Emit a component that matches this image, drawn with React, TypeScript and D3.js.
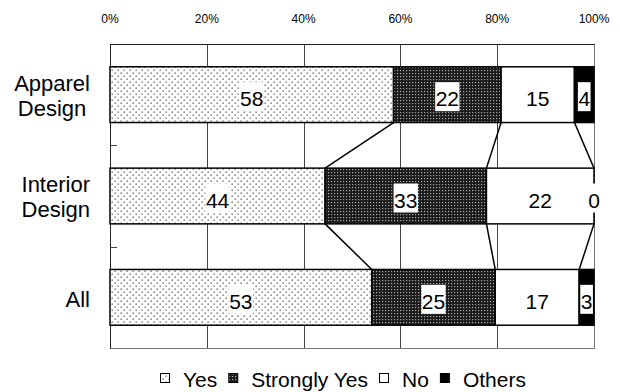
import { useEffect, useRef } from "react";
import * as d3 from "d3";

const categories = ["Apparel Design", "Interior Design", "All"];
const seriesNames = ["Yes", "Strongly Yes", "No", "Others"];
const yesValues = [58, 44, 53];
const strongYesValues = [22, 33, 25];
const noValues = [15, 22, 17];
const othersValues = [4, 0, 3];
const tickValues = [0, 0.2, 0.4, 0.6, 0.8, 1];
const tickLabels = ["0%", "20%", "40%", "60%", "80%", "100%"];

const WIDTH = 620;
const HEIGHT = 392;
const FONT = "'Liberation Sans', Arial, sans-serif";

export default function App() {
  const svgRef = useRef<SVGSVGElement>(null);

  useEffect(() => {
    if (!svgRef.current) return;
    document.body.style.margin = "0";

    const margin = { top: 44, right: 26, bottom: 44, left: 110 };
    const plotRight = WIDTH - margin.right;
    const plotBottom = HEIGHT - margin.bottom;

    const svg = d3.select(svgRef.current);
    svg.selectAll("*").remove();

    const series = [yesValues, strongYesValues, noValues, othersValues];

    // patterns
    const defs = svg.append("defs");
    const dots = defs
      .append("pattern")
      .attr("id", "pat-yes")
      .attr("patternUnits", "userSpaceOnUse")
      .attr("width", 6)
      .attr("height", 6);
    dots.append("rect").attr("width", 6).attr("height", 6).attr("fill", "#fff");
    dots.append("rect").attr("x", 0.5).attr("y", 0.5).attr("width", 1.3).attr("height", 1.3).attr("fill", "#555");
    dots.append("rect").attr("x", 3.5).attr("y", 3.5).attr("width", 1.3).attr("height", 1.3).attr("fill", "#555");

    const grid = defs
      .append("pattern")
      .attr("id", "pat-strong")
      .attr("patternUnits", "userSpaceOnUse")
      .attr("width", 3)
      .attr("height", 3);
    grid.append("rect").attr("width", 3).attr("height", 3).attr("fill", "#1a1a1a");
    grid.append("rect").attr("x", 1).attr("y", 1).attr("width", 1.2).attr("height", 1.2).attr("fill", "#a8a8a8");

    const fills = ["url(#pat-yes)", "url(#pat-strong)", "#fff", "#000"];

    const xScale = d3.scaleLinear().domain([0, 1]).range([margin.left, plotRight]);
    const yScale = d3
      .scaleBand()
      .domain(categories)
      .range([margin.top, plotBottom])
      .paddingInner(0.45)
      .paddingOuter(0.225);
    const bw = yScale.bandwidth();
    const step = yScale.step();

    // stacked proportions
    const stacks = categories.map((c, i) => {
      const vals = series.map((s) => s[i]);
      const total = d3.sum(vals);
      let acc = 0;
      return vals.map((v, k) => {
        const x0 = acc / total;
        acc += v;
        return { cat: c, key: seriesNames[k], value: v, k, x0, x1: acc / total };
      });
    });

    // gridlines
    svg
      .append("g")
      .selectAll("line")
      .data(tickValues.slice(1, -1))
      .enter()
      .append("line")
      .attr("x1", (d) => Math.round(xScale(d)) + 0.5)
      .attr("x2", (d) => Math.round(xScale(d)) + 0.5)
      .attr("y1", margin.top)
      .attr("y2", plotBottom)
      .attr("stroke", "#444")
      .attr("stroke-width", 1);

    // frame
    svg.append("line")
      .attr("x1", plotRight + 0.5).attr("x2", plotRight + 0.5)
      .attr("y1", margin.top).attr("y2", plotBottom)
      .attr("stroke", "#777");
    svg.append("line")
      .attr("x1", margin.left).attr("x2", plotRight + 1)
      .attr("y1", plotBottom + 0.5).attr("y2", plotBottom + 0.5)
      .attr("stroke", "#777");
    svg.append("line")
      .attr("x1", margin.left).attr("x2", plotRight + 1)
      .attr("y1", margin.top + 0.5).attr("y2", margin.top + 0.5)
      .attr("stroke", "#222");
    svg.append("line")
      .attr("x1", margin.left + 0.5).attr("x2", margin.left + 0.5)
      .attr("y1", margin.top).attr("y2", plotBottom + 1)
      .attr("stroke", "#222");

    // left ticks at band boundaries
    const boundaries = categories.slice(0, -1).map((c) => (yScale(c) as number) + bw + (step - bw) / 2);
    svg
      .append("g")
      .selectAll("line")
      .data(boundaries)
      .enter()
      .append("line")
      .attr("x1", margin.left)
      .attr("x2", margin.left + 7)
      .attr("y1", (d) => Math.round(d) + 0.5)
      .attr("y2", (d) => Math.round(d) + 0.5)
      .attr("stroke", "#444");

    // top tick labels
    svg
      .append("g")
      .selectAll("text")
      .data(tickValues)
      .enter()
      .append("text")
      .attr("x", (d) => xScale(d))
      .attr("y", 23)
      .attr("text-anchor", "middle")
      .attr("font-family", FONT)
      .attr("font-size", 12)
      .attr("fill", "#000")
      .text((_d, i) => tickLabels[i]);

    // bars
    const barG = svg.append("g");
    stacks.forEach((segs) => {
      const y = yScale(segs[0].cat) as number;
      barG
        .selectAll(null)
        .data(segs.filter((s) => s.value > 0))
        .enter()
        .append("rect")
        .attr("x", (d) => xScale(d.x0))
        .attr("y", y)
        .attr("width", (d) => xScale(d.x1) - xScale(d.x0))
        .attr("height", bw)
        .attr("fill", (d) => fills[d.k])
        .attr("stroke", "#000")
        .attr("stroke-width", 1.5);
    });

    // connector lines between bars
    const connG = svg.append("g");
    for (let i = 0; i < stacks.length - 1; i++) {
      const yTop = (yScale(categories[i]) as number) + bw;
      const yBot = yScale(categories[i + 1]) as number;
      for (let k = 0; k < seriesNames.length - 1; k++) {
        connG
          .append("line")
          .attr("x1", xScale(stacks[i][k].x1))
          .attr("y1", yTop)
          .attr("x2", xScale(stacks[i + 1][k].x1))
          .attr("y2", yBot)
          .attr("stroke", "#000")
          .attr("stroke-width", 1.5);
      }
    }

    // value labels with white boxes
    const labelG = svg.append("g");
    stacks.forEach((segs) => {
      const cy = (yScale(segs[0].cat) as number) + bw / 2;
      segs.forEach((d) => {
        const g = labelG.append("g");
        const rect = g.append("rect").attr("fill", "#fff");
        const t = g
          .append("text")
          .attr("x", (xScale(d.x0) + xScale(d.x1)) / 2)
          .attr("y", cy + 11.5)
          .attr("text-anchor", "middle")
          .attr("font-family", FONT)
          .attr("font-size", 21)
          .attr("fill", "#000")
          .text(String(d.value));
        const w = (t.node() as SVGTextElement).getComputedTextLength();
        rect
          .attr("x", (xScale(d.x0) + xScale(d.x1)) / 2 - w / 2 - 0.5)
          .attr("y", cy + 11.5 - 24)
          .attr("width", w + 1)
          .attr("height", 29);
      });
    });

    // category labels
    const catG = svg.append("g");
    categories.forEach((c) => {
      const cy = (yScale(c) as number) + bw / 2;
      const lines = c.split(" ");
      const g = catG.append("g");
      const texts = lines.map((ln, j) =>
        g
          .append("text")
          .attr("y", lines.length === 1 ? cy + 10 : cy - 4 + j * 25)
          .attr("text-anchor", "middle")
          .attr("font-family", FONT)
          .attr("font-size", 22)
          .attr("fill", "#000")
          .text(ln),
      );
      const maxW = d3.max(texts, (t) => (t.node() as SVGTextElement).getComputedTextLength()) as number;
      texts.forEach((t) => t.attr("x", 90 - maxW / 2));
    });

    // legend
    const legend = svg.append("g");
    let lx = 160;
    seriesNames.forEach((name, k) => {
      legend
        .append("rect")
        .attr("x", lx + 0.5)
        .attr("y", 373.5)
        .attr("width", 9)
        .attr("height", 9)
        .attr("fill", fills[k])
        .attr("stroke", "#000")
        .attr("stroke-width", 1);
      const t = legend
        .append("text")
        .attr("x", lx + 23)
        .attr("y", 387)
        .attr("font-family", FONT)
        .attr("font-size", 21)
        .attr("fill", "#000")
        .text(name);
      const w = (t.node() as SVGTextElement).getComputedTextLength();
      lx += 23 + w + 11;
    });
  }, []);

  return (
    <div style={{ width: WIDTH, height: HEIGHT }}>
      <svg ref={svgRef} width={WIDTH} height={HEIGHT} style={{ display: "block", background: "#fff" }} />
    </div>
  );
}
